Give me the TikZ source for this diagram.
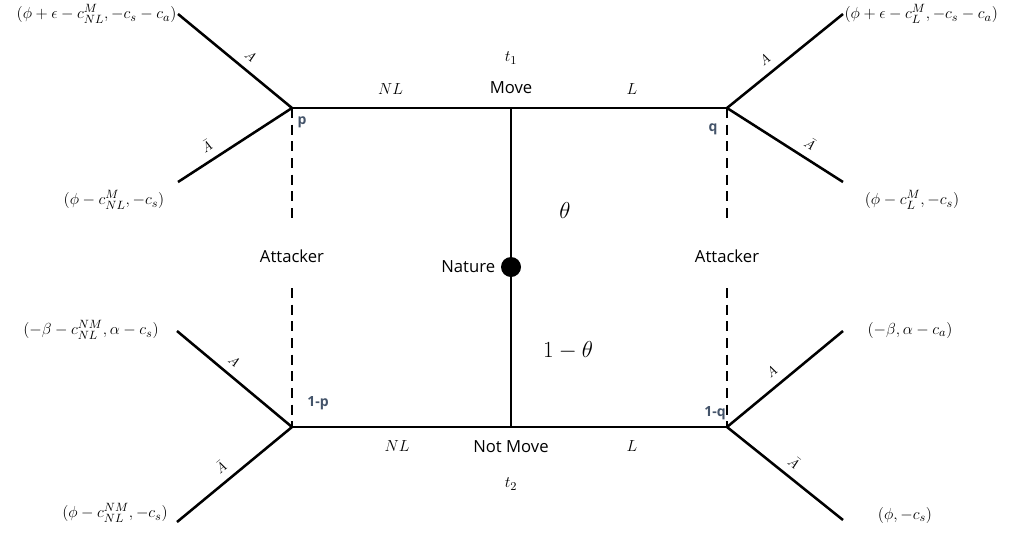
\documentclass[tikz,border=0pt]{standalone}
\usepackage{fontspec}
\setmainfont{Open Sans}
\usetikzlibrary{positioning}
\definecolor{probgray}{RGB}{68,84,106}

\begin{document}
\begin{tikzpicture}[x=0.75pt,y=-0.75pt,
  edge/.style={draw=black,line width=1.9pt},
  info/.style={draw=black,line width=2.1pt,dash pattern=on 7.5pt off 5pt},
  pay/.style={font=\fontsize{12.8}{15}\selectfont,inner sep=1pt},
  act/.style={font=\fontsize{10}{12}\selectfont,sloped,above,inner sep=6pt},
  prob/.style={font=\bfseries\fontsize{10.5}{12}\selectfont,text=probgray,inner sep=0pt},
  lbl/.style={font=\fontsize{12.5}{15}\selectfont,inner sep=1pt},
  who/.style={font=\fontsize{12.5}{15}\selectfont,inner xsep=0pt,inner ysep=19pt},
  chance/.style={circle,fill=black,inner sep=0pt,minimum size=15pt}
]
  \useasboundingbox (0,0) rectangle (1034,533);

  %% ---- decision nodes of the attacker ----
  \coordinate (p)  at (292,108);
  \coordinate (q)  at (727,108);
  \coordinate (pp) at (292,427);
  \coordinate (qq) at (727,427);

  %% ---- nature in the middle ----
  \coordinate (move)   at (511,108);
  \coordinate (nomove) at (511,427);
  \node[chance] (nature) at (511,267) {};
  \node[lbl,left=3pt of nature] (naturelbl) {Nature};

  %% ---- leaf ends ----
  \coordinate (ltA) at (178,14);
  \coordinate (ltN) at (178,182);
  \coordinate (lbA) at (177,331);
  \coordinate (lbN) at (177,522);
  \coordinate (rtA) at (843,14);
  \coordinate (rtN) at (843,182);
  \coordinate (rbA) at (843,331);
  \coordinate (rbN) at (843,520);

  %% ---- payoffs ----
  \node[pay,anchor=east] (ltApay) at (ltA) {$(\phi+\epsilon-c_{NL}^{M},-c_s-c_a)$};
  \node[pay] (ltNpay) at (114,200) {$(\phi-c_{NL}^{M},-c_s)$};
  \node[pay] (lbApay) at (91,330)  {$(-\beta-c_{NL}^{NM},\alpha-c_s)$};
  \node[pay] (lbNpay) at (115,513) {$(\phi-c_{NL}^{NM},-c_s)$};
  \node[pay,anchor=west] (rtApay) at (rtA) {$(\phi+\epsilon-c_{L}^{M},-c_s-c_a)$};
  \node[pay] (rtNpay) at (912,200) {$(\phi-c_{L}^{M},-c_s)$};
  \node[pay] (rbApay) at (910,330) {$(-\beta,\alpha-c_a)$};
  \node[pay] (rbNpay) at (905,515) {$(\phi,-c_s)$};

  %% ---- types t1 / t2 ----
  \node[lbl] (movelbl)   at (511,88)  {Move};
  \node[lbl] (nomovelbl) at (511,447) {Not Move};
  \node[pay] (t1) at (511,58)  {$t_1$};
  \node[pay] (t2) at (511,484) {$t_2$};
  \node[font=\fontsize{18}{20}\selectfont] (theta)  at (565,210) {$\theta$};
  \node[font=\fontsize{18}{20}\selectfont] (ntheta) at (568,350) {$1-\theta$};

  %% ---- horizontal moves ----
  \draw[edge] (p) -- node[pay,above=8pt,pos=0.45]{$NL$} (move)
                  -- node[pay,above=8pt,pos=0.56]{$L$} (q);
  \draw[edge] (pp) -- node[pay,below=8pt,pos=0.48]{$NL$} (nomove)
                   -- node[pay,below=8pt,pos=0.56]{$L$} (qq);
  \draw[edge] (move) -- (nature) -- (nomove);

  %% ---- attacker branches ----
  \draw[edge] (ltA) -- node[act,pos=0.56]{$A$} (p);
  \draw[edge] (ltN) -- node[act,pos=0.32]{$\bar{A}$} (p);
  \draw[edge] (lbA) -- node[act,pos=0.42]{$A$} (pp);
  \draw[edge] (lbN) -- node[act,pos=0.46]{$\bar{A}$} (pp);
  \draw[edge] (q)  -- node[act,pos=0.40]{$A$} (rtA);
  \draw[edge] (q)  -- node[act,pos=0.65]{$\bar{A}$} (rtN);
  \draw[edge] (qq) -- node[act,pos=0.46]{$A$} (rbA);
  \draw[edge] (qq) -- node[act,pos=0.50]{$\bar{A}$} (rbN);

  %% ---- information sets ----
  \node[who] (attl) at (292,256) {Attacker};
  \node[who] (attr) at (727,256) {Attacker};
  \draw[info] (p) -- (attl) -- (pp);
  \draw[info] (q) -- (attr) -- (qq);

  %% ---- beliefs ----
  \node[prob] (pl)  at (302,122) {p};
  \node[prob] (ql)  at (713,129) {q};
  \node[prob] (npl) at (318,403) {1-p};
  \node[prob] (nql) at (715,413) {1-q};
\end{tikzpicture}
\end{document}
